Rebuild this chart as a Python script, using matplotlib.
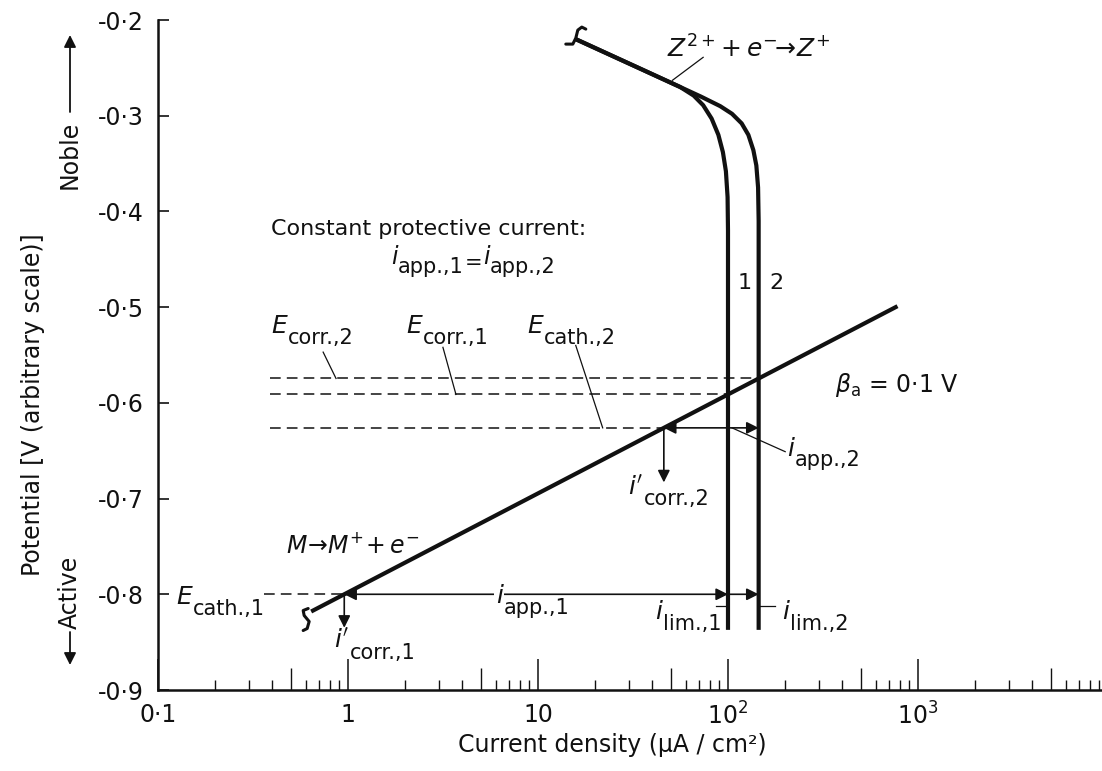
import numpy as np
import matplotlib
matplotlib.use("Agg")
import matplotlib.pyplot as plt
from matplotlib.transforms import ScaledTranslation
from matplotlib.ticker import NullFormatter

# polarisation curves, current density in uA/cm2, potential in V
anodic_i = [0.64, 780]
anodic_E = [-0.818, -0.499]

i_lim = [100, 145]
E_bottom = -0.835

cath1_i = [16.2, 35, 56, 66, 74, 82, 89, 94, 97.5, 99.5]
cath1_E = [-0.221, -0.2514, -0.270, -0.279, -0.289, -0.303, -0.320, -0.338, -0.358, -0.385]
cath2_i = [16.2, 35, 56, 72, 91, 105, 118, 128, 136, 141, 144]
cath2_E = [-0.221, -0.2514, -0.270, -0.280, -0.290, -0.298, -0.308, -0.320, -0.336, -0.352, -0.375]

E_cath1 = -0.80
x_dash = 0.39

xtick_vals = [0.1, 1, 10, 100, 1000]
xtick_labels = ["0·1", "1", "10", "10$^2$", "10$^3$"]
ytick_vals = [-0.9, -0.8, -0.7, -0.6, -0.5, -0.4, -0.3, -0.2]
ytick_labels = ["-0·9", "-0·8", "-0·7", "-0·6", "-0·5", "-0·4", "-0·3", "-0·2"]

ink = "#111111"
plt.rcParams["font.family"] = "DejaVu Sans"
plt.rcParams["mathtext.fontset"] = "dejavusans"


def E_anodic(i):
    return np.interp(np.log10(i), np.log10(anodic_i), anodic_E)


def i_anodic(E):
    return 10 ** np.interp(E, anodic_E, np.log10(anodic_i))


E_corr1 = E_anodic(i_lim[0])
E_corr2 = E_anodic(i_lim[1])
i_corr1 = i_anodic(E_cath1)
i_app = i_lim[0] - i_corr1
i_corr2 = i_lim[1] - i_app
E_cath2 = E_anodic(i_corr2)

fig = plt.figure(figsize=(11.02, 7.71), dpi=100)
ax = fig.add_axes([158 / 1102, 1 - 690 / 771, 1 - 158 / 1102, 670 / 771])
ax.set_xscale("log")
ax.set_xlim(0.1, 9300)
ax.set_ylim(-0.9, -0.2)
for s in ["top", "right"]:
    ax.spines[s].set_visible(False)
for s in ["left", "bottom"]:
    ax.spines[s].set_linewidth(1.8)
    ax.spines[s].set_color(ink)

# ticks
ax.set_xticks(xtick_vals)
ax.set_xticklabels(xtick_labels)
minor = [m * 10.0 ** n for n in range(-1, 4) for m in (2, 3, 4, 6, 7, 8, 9)]
ax.set_xticks(minor, minor=True)
ax.xaxis.set_minor_formatter(NullFormatter())
ax.tick_params(axis="x", which="major", direction="in", length=22, width=1.1,
               labelsize=17, pad=9, colors=ink)
ax.tick_params(axis="x", which="minor", direction="in", length=7, width=1.0, colors=ink)
mids = [5 * 10.0 ** n for n in range(-1, 4)]
ax.plot(mids, [-0.9] * len(mids), ls="none", marker=2, markersize=16, mew=1.0,
        color=ink, clip_on=False)
ax.set_yticks(ytick_vals)
ax.set_yticklabels(ytick_labels)
ax.tick_params(axis="y", direction="in", length=8, width=1.2, labelsize=17, pad=10,
               colors=ink)

# polarisation lines
ax.plot(anodic_i, anodic_E, color=ink, lw=3, solid_capstyle="butt")
ax.plot(cath1_i + [i_lim[0], i_lim[0]], cath1_E + [-0.42, E_bottom], color=ink, lw=3,
        solid_joinstyle="round")
ax.plot(cath2_i + [i_lim[1], i_lim[1]], cath2_E + [-0.41, E_bottom], color=ink, lw=3,
        solid_joinstyle="round")


def squiggle(x, y, pts):
    # small break mark drawn in pixel offsets from a curve end
    tr = fig.dpi_scale_trans + ScaledTranslation(x, y, ax.transData)
    dx = [p[0] / 100 for p in pts]
    dy = [-p[1] / 100 for p in pts]
    ax.plot(dx, dy, transform=tr, color=ink, lw=2.2, solid_capstyle="round", clip_on=False)


squiggle(cath1_i[0], cath1_E[0], [(8, -11), (4, -13), (0, -10), (-2, -2), (-5, 4), (-12, 4)])
squiggle(anodic_i[0], anodic_E[0], [(-3, -3), (-8, -1), (-7, 4), (-2, 10), (-4, 17), (-8, 19)])

# potential levels
dash = (0, (7, 4))
ax.plot([x_dash, i_lim[1]], [E_corr2, E_corr2], color=ink, lw=1.1, ls=dash)
ax.plot([x_dash, i_lim[0]], [E_corr1, E_corr1], color=ink, lw=1.1, ls=dash)
ax.plot([x_dash, i_corr2], [E_cath2, E_cath2], color=ink, lw=1.1, ls=dash)
ax.plot([0.36, i_corr1], [E_cath1, E_cath1], color=ink, lw=1.1, ls=dash)

arrow = dict(arrowstyle="<|-|>", color=ink, lw=1.2, mutation_scale=18, shrinkA=0, shrinkB=0)
one_way = dict(arrowstyle="-|>", color=ink, lw=1.2, mutation_scale=18, shrinkA=0, shrinkB=0)
ax.annotate("", xy=(i_corr1, E_cath1), xytext=(i_lim[0], E_cath1), arrowprops=arrow)
ax.annotate("", xy=(i_lim[1], E_cath1), xytext=(i_lim[0], E_cath1), arrowprops=one_way)
ax.annotate("", xy=(i_corr2, E_cath2), xytext=(i_lim[1], E_cath2), arrowprops=arrow)
ax.annotate("", xy=(i_corr1, E_cath1 - 0.035), xytext=(i_corr1, E_cath1), arrowprops=one_way)
ax.annotate("", xy=(i_corr2, E_cath2 - 0.057), xytext=(i_corr2, E_cath2), arrowprops=one_way)

leader = dict(color=ink, lw=0.9)
ax.plot([0.74, 0.865], [-0.547, E_corr2], **leader)
ax.plot([3.16, 3.7], [-0.542, E_corr1], **leader)
ax.plot([15.8, 21.9], [-0.540, E_cath2], **leader)
ax.plot([105, 200], [E_cath2, -0.651], **leader)
ax.plot([86, i_lim[0]], [-0.812, -0.812], **leader)
ax.plot([i_lim[1], 177], [-0.812, -0.812], **leader)
ax.plot([74, 51], [-0.239, -0.263], **leader)


def label(x, y, parts, bg=False):
    # chain of text pieces: (text, size, italic, shift in points)
    first = parts[0]
    t = ax.text(x, y, first[0], fontsize=first[1], style="italic" if first[2] else "normal",
                ha="left", va="baseline", color=ink)
    if bg:
        t.set_bbox(dict(facecolor="white", edgecolor="none", pad=1))
    prev_shift = first[3]
    for txt, size, ital, shift in parts[1:]:
        t = ax.annotate(txt, xy=(1, 0), xycoords=t, xytext=(0.5, shift - prev_shift),
                        textcoords="offset points", fontsize=size, ha="left", va="bottom",
                        style="italic" if ital else "normal", color=ink)
        if bg:
            t.set_bbox(dict(facecolor="white", edgecolor="none", pad=1))
        prev_shift = shift
    return t


def sub_label(x, y, main, sub, bg=False):
    return label(x, y, [(main, 18, True, 0), (sub, 15, False, -7)], bg=bg)


sub_label(0.394, -0.527, "E", "corr.,2")
sub_label(2.02, -0.527, "E", "corr.,1")
sub_label(8.83, -0.527, "E", "cath.,2")
sub_label(0.1247, -0.810, "E", "cath.,1")
sub_label(0.84, -0.856, r"$i'$", "corr.,1")
sub_label(29.6, -0.696, r"$i'$", "corr.,2")
sub_label(205, -0.655, "i", "app.,2")
sub_label(6.0, -0.809, "i", "app.,1", bg=True)
sub_label(41.5, -0.826, "i", "lim.,1")
sub_label(193, -0.826, "i", "lim.,2")

ax.text(0.394, -0.425, "Constant protective current:", fontsize=16, color=ink)
label(1.68, -0.455, [("i", 17, True, 0), ("app.,1", 15, False, -6), ("=", 15, False, -3),
                     ("i", 17, True, 0), ("app.,2", 15, False, -6)])

ax.text(48, -0.239, r"$Z^{2+}\!+e^{-}\!\!\rightarrow\!Z^{+}$", fontsize=18, color=ink)
ax.text(0.472, -0.757, r"$M\!\rightarrow\!M^{+}\!+e^{-}$", fontsize=17, color=ink)
ax.text(367, -0.589, r"$\beta_{\mathrm{a}}$ = 0·1 V", fontsize=17, color=ink)
ax.text(112, -0.475, "1", fontsize=16, va="center", color=ink)
ax.text(165, -0.475, "2", fontsize=16, va="center", color=ink)

# axis titles
fig.text(33 / 1102, 1 - 405 / 771, "Potential [V (arbitrary scale)]", rotation=90,
         ha="center", va="center", fontsize=17, color=ink)
fig.text(70 / 1102, 1 - 155 / 771, "Noble", rotation=90, ha="center", va="center",
         fontsize=17, color=ink)
fig.text(70 / 1102, 1 - 592 / 771, "Active", rotation=90, ha="center", va="center",
         fontsize=17, color=ink)
head = dict(arrowstyle="-|>", color=ink, lw=1.3, mutation_scale=18, shrinkA=0, shrinkB=0)
ax.annotate("", xy=(70, 771 - 35), xycoords="figure pixels", xytext=(70, 771 - 112),
            textcoords="figure pixels", arrowprops=head)
ax.annotate("", xy=(70, 771 - 665), xycoords="figure pixels", xytext=(70, 771 - 632),
            textcoords="figure pixels", arrowprops=head)
fig.text(612 / 1102, 1 - 745 / 771, "Current density (μA / cm²)", ha="center",
         va="center", fontsize=17, color=ink)

fig.savefig("out.png", dpi=100)
